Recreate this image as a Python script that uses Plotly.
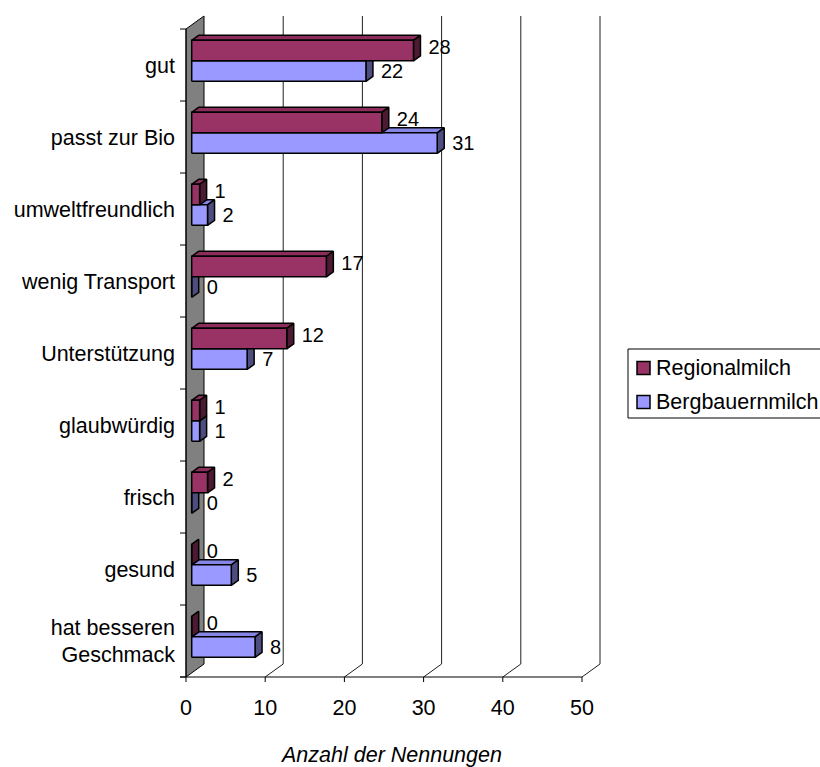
import plotly.graph_objects as go

# ---- data -------------------------------------------------------------
categories = ["gut", "passt zur Bio", "umweltfreundlich", "wenig Transport",
              "Unterstützung", "glaubwürdig", "frisch", "gesund",
              "hat besseren<br>Geschmack"]
regionalmilch = [28, 24, 1, 17, 12, 1, 2, 0, 0]
bergbauernmilch = [22, 31, 2, 0, 7, 1, 0, 5, 8]
x_ticks = [0, 10, 20, 30, 40, 50]
x_title = "Anzahl der Nennungen"
series_names = ["Regionalmilch", "Bergbauernmilch"]

# ---- page geometry (pixels) ----------------------------------------------
W, H = 820, 767
PL, PR, PT, PB = 179, 612, 8, 684          # plot rectangle
X0_PX = 186                                # value 0 on the front plane
PX_PER_UNIT = 7.92                         # pixels per count
PX_PER_CAT = 72                            # pixels per category band
FLOOR_PX = 677                             # front floor line

ux = lambda px: px / PX_PER_UNIT           # pixel length -> x units
uy = lambda px: px / PX_PER_CAT            # pixel length -> y units

n = len(categories)
pos = [n - 1 - i for i in range(n)]        # first category on top
y_lo, y_hi = -0.5, n - 0.5

DXW, DYW = ux(18), uy(13)                  # depth of the 3-D box
FDX, FDY = ux(5.7), uy(4.2)                # bar front face offset
BDX, BDY = ux(7), uy(5)                    # bar depth
BAR_H = uy(20.5)

x_range = [ux(PL - X0_PX), ux(PR - X0_PX)]
y_range = [y_lo - uy(PB - FLOOR_PX), y_lo + uy(FLOOR_PX - PT)]

FONT = "Liberation Sans, Arial, sans-serif"
FS = 21.5
FS_VAL = 20
fig = go.Figure()


def poly_trace(polys, fill, lw=1.5, lc="black"):
    xs, ys = [], []
    for p in polys:
        xs += [q[0] for q in p] + [p[0][0], None]
        ys += [q[1] for q in p] + [p[0][1], None]
    return go.Scatter(x=xs, y=ys, mode="lines", fill="toself", fillcolor=fill,
                      line=dict(color=lc, width=lw), hoverinfo="skip",
                      showlegend=False)


def line_trace(segs, color="black", width=1):
    xs, ys = [], []
    for s in segs:
        xs += [q[0] for q in s] + [None]
        ys += [q[1] for q in s] + [None]
    return go.Scatter(x=xs, y=ys, mode="lines", line=dict(color=color, width=width),
                      hoverinfo="skip", showlegend=False)


# ---- box: left wall, floor edges, gridlines --------------------------------
wall = [(0, y_lo), (DXW, y_lo + DYW), (DXW, y_hi + DYW), (0, y_hi)]
fig.add_trace(poly_trace([wall], "#808080", lw=1))

grid = []
for v in x_ticks[1:]:
    grid.append([(v, y_lo), (v + DXW, y_lo + DYW), (v + DXW, y_hi + DYW)])
fig.add_trace(line_trace(grid, color="#202020", width=1))

tick_len_x = ux(6)
axis_segs = [[(-tick_len_x, y_lo), (x_ticks[-1], y_lo)],
             [(0, y_lo), (0, y_hi)]]
for k in range(n + 1):
    b = y_lo + k
    axis_segs.append([(-tick_len_x, b), (0, b)])
for v in x_ticks:
    axis_segs.append([(v, y_lo), (v, y_lo - uy(5))])
fig.add_trace(line_trace(axis_segs, color="black", width=1))

# ---- 3-D bars -----------------------------------------------------------
styles = {
    "Regionalmilch": dict(front="#993366", top="#8c2d5c", side="#4d1a33"),
    "Bergbauernmilch": dict(front="#9999ff", top="#8585e6", side="#4d4d80"),
}


def bar_faces(values, upper):
    tops, sides, fronts = [], [], []
    for p, v in zip(pos, values):
        y0 = p + FDY if upper else p + FDY - BAR_H
        y1 = y0 + BAR_H
        x0, x1 = FDX, FDX + v
        fronts.append([(x0, y0), (x1, y0), (x1, y1), (x0, y1)])
        tops.append([(x0, y1), (x1, y1), (x1 + BDX, y1 + BDY), (x0 + BDX, y1 + BDY)])
        sides.append([(x1, y0), (x1 + BDX, y0 + BDY), (x1 + BDX, y1 + BDY), (x1, y1)])
    return tops, sides, fronts


# lower series first so the upper bars sit in front of its top faces
for name, values, upper in [("Bergbauernmilch", bergbauernmilch, False),
                            ("Regionalmilch", regionalmilch, True)]:
    st = styles[name]
    tops, sides, fronts = bar_faces(values, upper)
    fig.add_trace(poly_trace(tops, st["top"]))
    fig.add_trace(poly_trace(sides, st["side"]))
    fig.add_trace(poly_trace(fronts, st["front"]))

# ---- value labels ---------------------------------------------------------
lab_x, lab_y, lab_t = [], [], []
for values, upper in [(regionalmilch, True), (bergbauernmilch, False)]:
    for p, v in zip(pos, values):
        yc = p + FDY + (BAR_H / 2 + uy(1.5) if upper else -BAR_H / 2 - uy(2))
        lab_x.append(FDX + v + ux(15))
        lab_y.append(yc)
        lab_t.append(str(v))
fig.add_trace(go.Scatter(x=lab_x, y=lab_y, text=lab_t, mode="text",
                         textposition="middle right", cliponaxis=False,
                         textfont=dict(family=FONT, size=FS_VAL, color="black"),
                         hoverinfo="skip", showlegend=False))

# ---- legend and axis title (paper coordinates) ----------------------------
pw, ph = PR - PL, PB - PT
fx = lambda px: (px - PL) / pw
fy = lambda py: (PB - py) / ph
fig.add_shape(type="rect", xref="paper", yref="paper",
              x0=fx(628), x1=fx(826), y0=fy(418), y1=fy(349),
              line=dict(color="black", width=1), fillcolor="white", layer="above")
for i, name in enumerate(series_names):
    cy = 368 + 34 * i
    fig.add_shape(type="rect", xref="paper", yref="paper",
                  x0=fx(637), x1=fx(650), y0=fy(cy + 6.5), y1=fy(cy - 6.5),
                  line=dict(color="black", width=1.5),
                  fillcolor=styles[name]["front"], layer="above")
    fig.add_annotation(xref="paper", yref="paper", x=fx(654), y=fy(cy),
                       text=name, showarrow=False, xanchor="left", yanchor="middle",
                       font=dict(family=FONT, size=FS, color="black"))

fig.add_annotation(xref="paper", yref="paper", x=fx(391), y=fy(755),
                   text="<i>" + x_title + "</i>", showarrow=False,
                   xanchor="center", yanchor="middle",
                   font=dict(family=FONT, size=FS, color="black"))

fig.update_layout(
    width=W, height=H,
    margin=dict(l=PL, r=W - PR, t=PT, b=H - PB, pad=0, autoexpand=False),
    paper_bgcolor="white", plot_bgcolor="white",
    showlegend=False,
    font=dict(family=FONT, size=FS, color="black"),
    xaxis=dict(range=x_range, tickvals=x_ticks, ticks="", showline=False,
               showgrid=False, zeroline=False, ticklabelstandoff=8,
               automargin=False, tickfont=dict(size=FS)),
    yaxis=dict(range=y_range, tickvals=pos, ticktext=categories, ticks="",
               showline=False, showgrid=False, zeroline=False,
               automargin=False, ticklabelstandoff=3, tickfont=dict(size=FS)),
)

fig.write_html("out.html")
